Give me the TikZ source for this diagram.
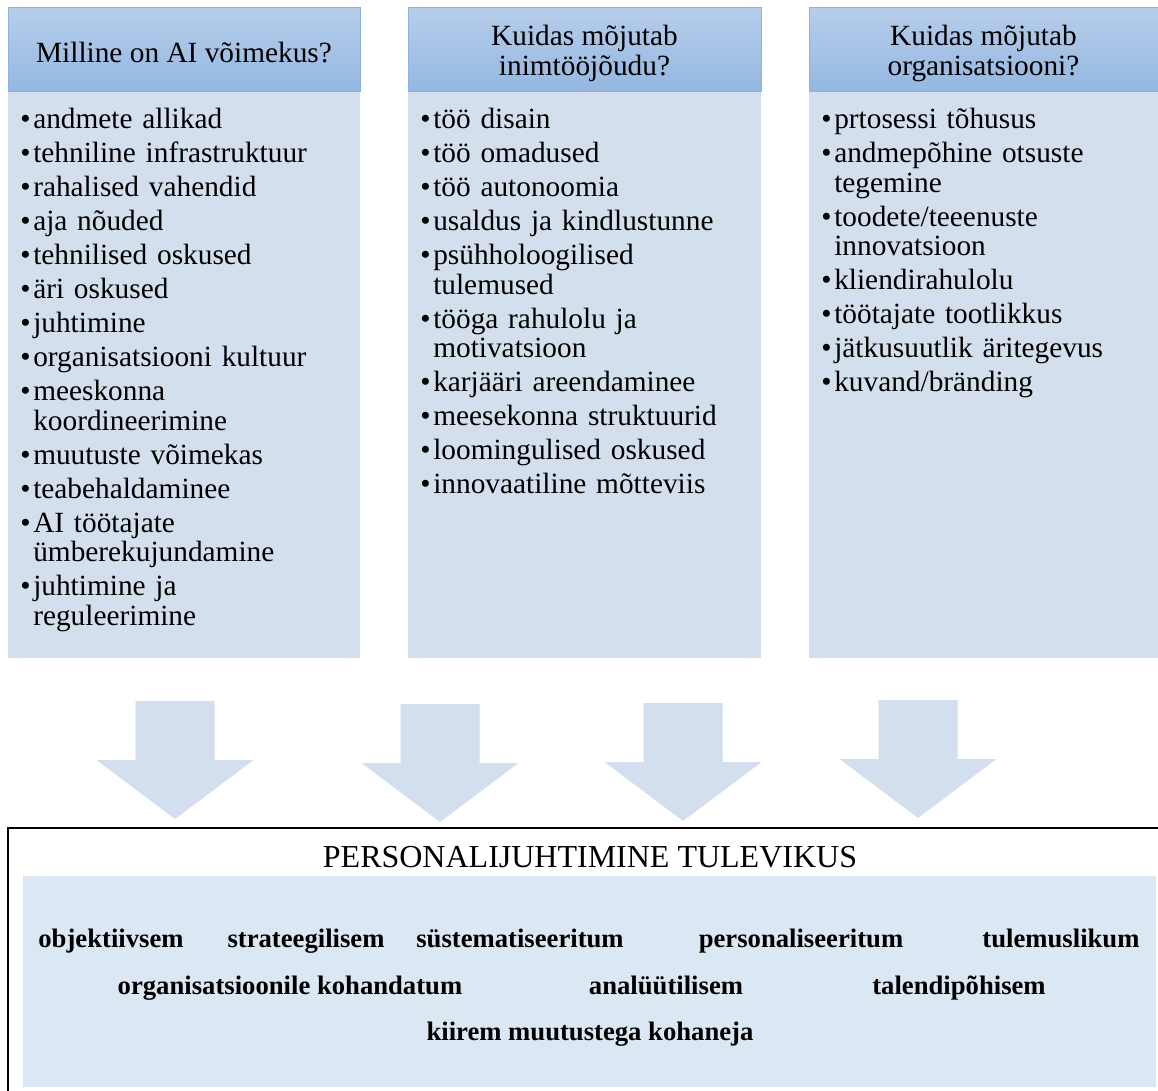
\documentclass[tikz,border=0pt]{standalone}
\usepackage{fontspec}
\setmainfont{Liberation Serif}
\usepackage{xcolor}
\usepackage{tikz}
\tikzset{>=latex}
\usetikzlibrary{calc}
\definecolor{hdtop}{HTML}{B7CDEA}
\definecolor{hdbot}{HTML}{94B7E1}
\definecolor{hdline}{HTML}{8DB2E0}
\definecolor{listbg}{HTML}{D4DFEE}
\definecolor{arrowbg}{HTML}{D3DEEF}
\definecolor{futbg}{HTML}{DCE7F4}
\newcommand{\listsetup}{\parskip=3.4pt}
\newcommand{\bul}{\hangindent=9.75pt\hangafter=1\makebox[9.75pt][l]{•}}

\begin{document}
\begin{tikzpicture}[x=0.75pt,y=-0.75pt,
		qtext/.style={align=center,inner sep=0pt,font=\fontsize{22}{22.5}\selectfont},
		listtext/.style={anchor=base west,inner sep=0pt,text width=255pt,align=left,font=\fontsize{22}{22.1}\selectfont},
		word/.style={anchor=base,inner sep=0pt,font=\fontsize{20}{20}\selectfont\bfseries},
		bigarrow/.style={fill=arrowbg}]
		\useasboundingbox (0,0) rectangle (1158,1091);
		\foreach \xa/\xb in {8/360,408/761,809/1158}{
			\fill[listbg] (\xa,92) rectangle (\xb,658);
			\shade[top color=hdtop,bottom color=hdbot,draw=hdline,line width=0.75pt] (\xa,8) rectangle (\xb,92);
		}
		\node[qtext] (qa) at (184,53) {Milline on AI võimekus?};
		\node[qtext] (qb) at (584.5,53) {Kuidas mõjutab\\inimtööjõudu?};
		\node[qtext] (qc) at (983.5,53) {Kuidas mõjutab\\organisatsiooni?};
		\node[listtext] (la) at (20,129) {\listsetup
			\bul andmete allikad\par
			\bul tehniline infrastruktuur\par
			\bul rahalised vahendid\par
			\bul aja nõuded\par
			\bul tehnilised oskused\par
			\bul äri oskused\par
			\bul juhtimine\par
			\bul organisatsiooni kultuur\par
			\bul meeskonna\newline koordineerimine\par
			\bul muutuste võimekas\par
			\bul teabehaldaminee\par
			\bul AI töötajate\newline ümberekujundamine\par
			\bul juhtimine ja\newline reguleerimine\par};
		\node[listtext] (lb) at (420,129) {\listsetup
			\bul töö disain\par
			\bul töö omadused\par
			\bul töö autonoomia\par
			\bul usaldus ja kindlustunne\par
			\bul psühholoogilised\newline tulemused\par
			\bul tööga rahulolu ja\newline motivatsioon\par
			\bul karjääri areendaminee\par
			\bul meesekonna struktuurid\par
			\bul loomingulised oskused\par
			\bul innovaatiline mõtteviis\par};
		\node[listtext] (lc) at (821,129) {\listsetup
			\bul prtosessi tõhusus\par
			\bul andmepõhine otsuste\newline tegemine\par
			\bul toodete/teeenuste\newline innovatsioon\par
			\bul kliendirahulolu\par
			\bul töötajate tootlikkus\par
			\bul jätkusuutlik äritegevus\par
			\bul kuvand/bränding\par};
		\foreach \cx/\ty in {175/701,440/704,683/703,918/700}
		\fill[bigarrow] (\cx-39.5,\ty) -- (\cx+39.5,\ty) -- (\cx+39.5,\ty+59) -- (\cx+78.5,\ty+59) -- (\cx,\ty+118) -- (\cx-78.5,\ty+59) -- (\cx-39.5,\ty+59) -- cycle;
		\draw[line width=1.1pt] (8,828) rectangle (1180,1110);
		\fill[futbg] (23,876) rectangle (1156,1087);
		\node[anchor=base,inner sep=0pt,font=\fontsize{24}{24}\selectfont] (fut) at (590,867) {PERSONALIJUHTIMINE TULEVIKUS};
		\foreach \x/\y/\t/\n in {111/947/objektiivsem/w1,306/947/strateegilisem/w2,520/947/süstematiseeritum/w3,801/947/personaliseeritum/w4,1061/947/tulemuslikum/w5,290/994/organisatsioonile kohandatum/w6,666/994/analüütilisem/w7,959/994/talendipõhisem/w8,590/1040/kiirem muutustega kohaneja/w9}
		\node[word] (\n) at (\x,\y) {\t};
\end{tikzpicture}
\end{document}
